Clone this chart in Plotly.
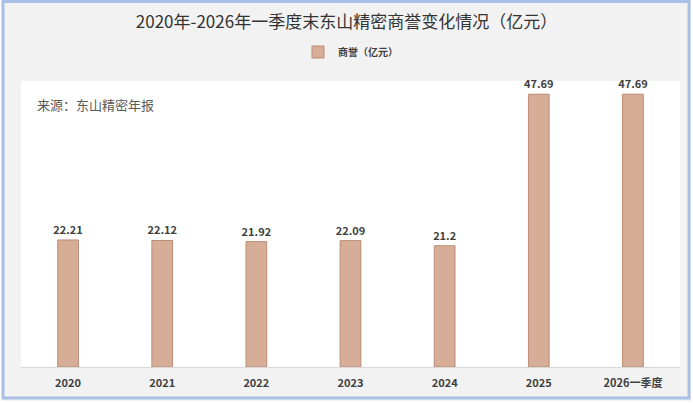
import plotly.graph_objects as go

categories = ["2020", "2021", "2022", "2023", "2024", "2025", "2026一季度"]
goodwill = [22.21, 22.12, 21.92, 22.09, 21.2, 47.69, 47.69]
series_name = "商誉（亿元）"
title_text = "2020年-2026年一季度末东山精密商誉变化情况（亿元）"
source_text = "来源：东山精密年报"

W, H = 693, 403
ML, MR, MT, MB = 21, 13, 81, 36
PW = W - ML - MR
PH = H - MT - MB


def px(x):
    return (x - ML) / PW


def py(y):
    return (H - MB - y) / PH


CJK = "Noto Sans CJK SC, Noto Sans, sans-serif"

fig = go.Figure()
fig.add_trace(go.Bar(
    x=categories,
    y=goodwill,
    name=series_name,
    width=0.22,
    marker=dict(color="#d6ae97", line=dict(color="#bb8c72", width=1)),
    text=[str(v) for v in goodwill],
    textposition="outside",
    constraintext="none",
    textfont=dict(family=CJK, size=11, color="#404040", weight="bold"),
    cliponaxis=False,
    showlegend=True,
))

fig.update_layout(
    width=W, height=H,
    margin=dict(l=ML, r=MR, t=MT, b=MB, pad=0),
    paper_bgcolor="#f2f2f2",
    plot_bgcolor="#ffffff",
    title=dict(text=title_text, x=0.5, xanchor="center", y=1 - 22 / H, yanchor="middle",
               font=dict(family=CJK, size=17, color="#333333", weight="normal")),
    legend=dict(orientation="h", x=0.5, xanchor="center", y=py(52), yanchor="middle",
                bgcolor="rgba(0,0,0,0)",
                font=dict(family=CJK, size=10, color="#404040", weight="bold"),
                itemwidth=30),
    xaxis=dict(showgrid=False, showline=True, linecolor="#d9d9d9", linewidth=1,
               ticks="", tickfont=dict(family=CJK, size=11, color="#404040", weight="bold"),
               ticklabelstandoff=6),
    yaxis=dict(range=[0, 50], visible=False, showgrid=False),
    font=dict(family=CJK),
)

fig.add_annotation(text=source_text, xref="paper", yref="paper", x=px(35), y=py(104),
                   xanchor="left", yanchor="middle", showarrow=False,
                   font=dict(family=CJK, size=13, color="#595959"))

# outer white edge and blue border
fig.add_shape(type="rect", xref="paper", yref="paper", x0=px(0.5), x1=px(W - 0.5),
              y0=py(H - 0.5), y1=py(0.5), line=dict(color="#ffffff", width=3), layer="above")
fig.add_shape(type="rect", xref="paper", yref="paper", x0=px(3), x1=px(689),
              y0=py(398), y1=py(1.5), line=dict(color="#a9bfe6", width=3), layer="above")

fig.write_html("out.html")
